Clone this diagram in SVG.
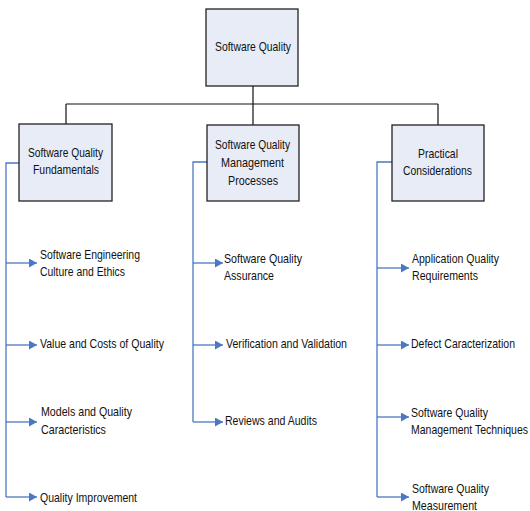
<svg xmlns="http://www.w3.org/2000/svg" width="530" height="511" viewBox="0 0 530 511">
  <defs>
    <marker id="arrow" viewBox="0 0 8 9" refX="8" refY="4.5" markerWidth="8" markerHeight="9" markerUnits="userSpaceOnUse" orient="auto">
      <path d="M0,0 L8,4.5 L0,9 z" fill="#4A78C2"/>
    </marker>
    <style>
      .box { fill: #E8ECF7; stroke: #222; stroke-width: 1.3; }
      .tree { fill: none; stroke: #111; stroke-width: 1.2; }
      .branch { fill: none; stroke: #4A78C2; stroke-width: 1.3; }
      .arr { fill: none; stroke: #4A78C2; stroke-width: 1.3; marker-end: url(#arrow); }
      text { font-family: "Liberation Sans", Arial, sans-serif; font-size: 13.3px; fill: #111; }
      .c { text-anchor: middle; }
    </style>
  </defs>

  <!-- hierarchy lines -->
  <g id="connectors">
    <path class="tree" d="M253,86 V104 M66,104 H438 M66,104 V124 M253,104 V125 M438,104 V125"/>
    <!-- fundamentals branch -->
    <path class="branch" d="M19,163 H6 V497"/>
    <path class="arr" d="M6,263 H37"/>
    <path class="arr" d="M6,345 H37"/>
    <path class="arr" d="M6,422 H37"/>
    <path class="arr" d="M6,497 H37"/>
    <!-- management processes branch -->
    <path class="branch" d="M207,162 H193 V422"/>
    <path class="arr" d="M193,263 H223"/>
    <path class="arr" d="M193,345 H223"/>
    <path class="arr" d="M193,422 H223"/>
    <!-- practical considerations branch -->
    <path class="branch" d="M392,162 H377 V497"/>
    <path class="arr" d="M377,268 H409"/>
    <path class="arr" d="M377,345 H409"/>
    <path class="arr" d="M377,417 H409"/>
    <path class="arr" d="M377,497 H409"/>
  </g>

  <g id="software-quality">
    <rect class="box" x="206" y="9" width="92" height="77"/>
    <text x="253" y="51" class="c" textLength="76" lengthAdjust="spacingAndGlyphs">Software Quality</text>
  </g>

  <g id="fundamentals">
    <rect class="box" x="19" y="124" width="93" height="77"/>
    <text x="65.5" y="157" class="c" textLength="75" lengthAdjust="spacingAndGlyphs">Software Quality</text>
    <text x="66" y="174" class="c" textLength="66" lengthAdjust="spacingAndGlyphs">Fundamentals</text>
  </g>

  <g id="management-processes">
    <rect class="box" x="207" y="125" width="92" height="76"/>
    <text x="252.5" y="149" class="c" textLength="75" lengthAdjust="spacingAndGlyphs">Software Quality</text>
    <text x="252.5" y="167" class="c" textLength="63" lengthAdjust="spacingAndGlyphs">Management</text>
    <text x="253" y="185" class="c" textLength="50" lengthAdjust="spacingAndGlyphs">Processes</text>
  </g>

  <g id="practical-considerations">
    <rect class="box" x="392" y="125" width="92" height="76"/>
    <text x="438" y="158" class="c" textLength="40" lengthAdjust="spacingAndGlyphs">Practical</text>
    <text x="437.5" y="175" class="c" textLength="69" lengthAdjust="spacingAndGlyphs">Considerations</text>
  </g>

  <g id="culture-ethics">
    <text x="40" y="259" textLength="100" lengthAdjust="spacingAndGlyphs">Software Engineering</text>
    <text x="40" y="276" textLength="85" lengthAdjust="spacingAndGlyphs">Culture and Ethics</text>
  </g>
  <g id="value-costs">
    <text x="40" y="348" textLength="124" lengthAdjust="spacingAndGlyphs">Value and Costs of Quality</text>
  </g>
  <g id="models-characteristics">
    <text x="41" y="416" textLength="91" lengthAdjust="spacingAndGlyphs">Models and Quality</text>
    <text x="41" y="434" textLength="65" lengthAdjust="spacingAndGlyphs">Caracteristics</text>
  </g>
  <g id="quality-improvement">
    <text x="40" y="502" textLength="97" lengthAdjust="spacingAndGlyphs">Quality Improvement</text>
  </g>

  <g id="quality-assurance">
    <text x="224" y="263" textLength="78" lengthAdjust="spacingAndGlyphs">Software Quality</text>
    <text x="224" y="280" textLength="50" lengthAdjust="spacingAndGlyphs">Assurance</text>
  </g>
  <g id="verification-validation">
    <text x="226" y="348" textLength="121" lengthAdjust="spacingAndGlyphs">Verification and Validation</text>
  </g>
  <g id="reviews-audits">
    <text x="225" y="425" textLength="92" lengthAdjust="spacingAndGlyphs">Reviews and Audits</text>
  </g>

  <g id="application-requirements">
    <text x="412" y="263" textLength="87" lengthAdjust="spacingAndGlyphs">Application Quality</text>
    <text x="412" y="280" textLength="66" lengthAdjust="spacingAndGlyphs">Requirements</text>
  </g>
  <g id="defect-characterization">
    <text x="411" y="348" textLength="104" lengthAdjust="spacingAndGlyphs">Defect Caracterization</text>
  </g>
  <g id="management-techniques">
    <text x="411" y="417" textLength="77" lengthAdjust="spacingAndGlyphs">Software Quality</text>
    <text x="411" y="434" textLength="117" lengthAdjust="spacingAndGlyphs">Management Techniques</text>
  </g>
  <g id="quality-measurement">
    <text x="412" y="493" textLength="77" lengthAdjust="spacingAndGlyphs">Software Quality</text>
    <text x="412" y="510" textLength="65" lengthAdjust="spacingAndGlyphs">Measurement</text>
  </g>
</svg>
